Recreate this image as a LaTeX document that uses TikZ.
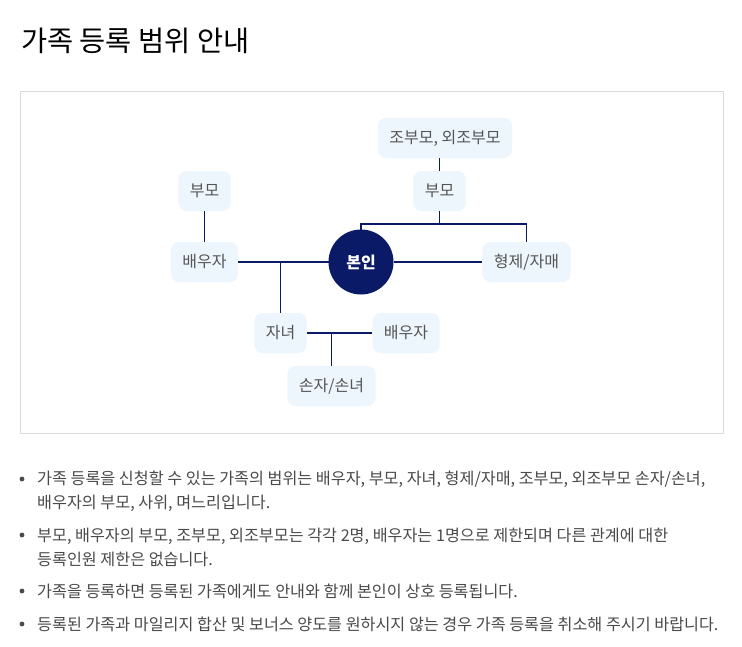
\documentclass[tikz,border=0pt]{standalone}
\usepackage{fontspec}
\setmainfont{Noto Sans CJK KR}
\definecolor{navy}{HTML}{0B1A66}
\definecolor{boxfill}{HTML}{EEF6FD}
\definecolor{boxtext}{HTML}{555555}
\definecolor{frameline}{HTML}{DADADA}
\definecolor{bodytext}{HTML}{4A4A4A}
\begin{document}
\begin{tikzpicture}[x=1pt,y=-1pt,
    member/.style = {rectangle,rounded corners=8pt,fill=boxfill,text=boxtext,minimum height=40pt,inner xsep=11.5pt,outer sep=0pt,font=\fontsize{16}{19}\selectfont},
    self/.style = {circle,fill=navy,text=white,minimum size=65pt,inner sep=0pt,outer sep=0pt,font=\fontsize{16}{19}\selectfont\bfseries},
    link/.style = {draw=navy,line width=1.2pt},
    para/.style = {anchor=base west,text=bodytext,inner sep=0pt,font=\fontsize{16.2}{19}\selectfont}]
\useasboundingbox[fill=white] (0,0) rectangle (742,646);
\node[anchor=base west,inner sep=0pt,font=\fontsize{28.4}{32}\selectfont] (title) at (21,51) {가족 등록 범위 안내};
\draw[frameline,line width=1pt] (20.5,91.5) rectangle (723,433);
% family tree
\node[self]   (me)      at (361,262)   {본인};
\node[member] (parL)    at (204.5,191) {부모};
\node[member] (spouse)  at (204.5,262) {배우자};
\node[member] (gpar)    at (445,138)   {조부모, 외조부모};
\node[member] (parR)    at (439.5,191) {부모};
\node[member] (sib)     at (526.5,262) {형제/자매};
\node[member] (child)   at (280.5,333) {자녀};
\node[member] (cspouse) at (406,333)   {배우자};
\node[member] (grand)   at (331.5,386) {손자/손녀};
\coordinate (sibbar) at (361,224);
\draw[link] (parL) -- (spouse);
\draw[link] (spouse) -- (me);
\draw[link] (me) -- (sib);
\draw[link] (child.north) -- (child.north |- me);
\draw[link] (parR.north) -- (parR.north |- gpar.south);
\draw[link] (parR.south) -- (parR.south |- sibbar);
\draw[link] (me.north) -- (sibbar) -| (sib.north);
\draw[link] (child) -- (cspouse);
\draw[link] (grand.north) -- (grand.north |- child);
% notes
\foreach \y in {479,535,591,624}
    \fill[bodytext] (22,\y) circle (2.4pt);
\foreach \y/\t [count=\k] in {
    484.5/{가족 등록을 신청할 수 있는 가족의 범위는 배우자, 부모, 자녀, 형제/자매, 조부모, 외조부모 손자/손녀,},
    508.5/{배우자의 부모, 사위, 며느리입니다.},
    541.5/{부모, 배우자의 부모, 조부모, 외조부모는 각각 2명, 배우자는 1명으로 제한되며 다른 관계에 대한},
    565.5/{등록인원 제한은 없습니다.},
    597.5/{가족을 등록하면 등록된 가족에게도 안내와 함께 본인이 상호 등록됩니다.},
    630.5/{등록된 가족과 마일리지 합산 및 보너스 양도를 원하시지 않는 경우 가족 등록을 취소해 주시기 바랍니다.}}
    \node[para] (note\k) at (37,\y) {\t};
\end{tikzpicture}
\end{document}
